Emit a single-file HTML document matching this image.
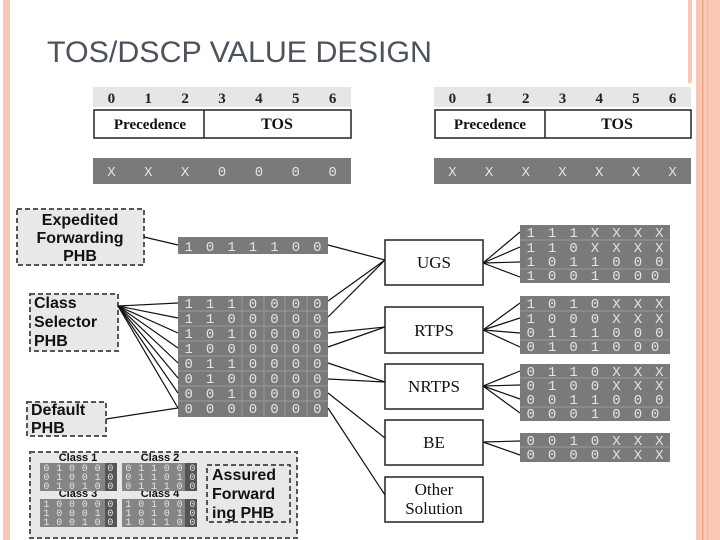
<!DOCTYPE html>
<html><head><meta charset="utf-8"><style>
html,body{margin:0;padding:0;background:#fff;width:720px;height:540px;overflow:hidden}
svg{display:block}
.t{font-family:"Liberation Sans",sans-serif;font-weight:bold;fill:#111}
.s{font-family:"Liberation Serif",serif;fill:#111}
.m{font-family:"Liberation Mono",monospace;fill:#e4e4e4;font-size:14px;text-anchor:middle}
.sm{font-family:"Liberation Mono",monospace;fill:#e4e4e4;font-size:10px;text-anchor:middle}
.h{font-family:"Liberation Serif",serif;font-weight:bold;fill:#222;font-size:15px;text-anchor:middle}
</style></head><body>
<svg width="720" height="540" viewBox="0 0 720 540" xmlns="http://www.w3.org/2000/svg">
<rect x="3" y="0" width="7" height="540" fill="#f8c8b4"/>
<rect x="688" y="0" width="4" height="83" fill="#f8c8b4"/>
<rect x="696" y="0" width="24" height="540" fill="#f8c8b4"/>
<rect x="702" y="0" width="1.5" height="540" fill="#f0a888"/>
<rect x="707" y="0" width="1" height="540" fill="#f3b49a"/>
<text x="47" y="62" font-family="Liberation Sans,sans-serif" font-size="30" fill="#4d535e" textLength="385" lengthAdjust="spacingAndGlyphs">TOS/DSCP VALUE DESIGN</text>

<!-- top-left table -->
<rect x="93" y="87" width="258" height="20" fill="#e6e6e6"/>
<text class="h" y="103" x="111.4 148.3 185.1 222 258.9 295.7 332.6">0123456</text>
<rect x="94" y="110" width="257" height="28" fill="#fff" stroke="#222" stroke-width="1.5"/>
<line x1="204" y1="110" x2="204" y2="138" stroke="#222" stroke-width="1.5"/>
<text class="s" x="150" y="129" font-size="15" font-weight="bold" text-anchor="middle">Precedence</text>
<text class="s" x="277" y="129" font-size="16" font-weight="bold" text-anchor="middle">TOS</text>
<rect x="93" y="158" width="258" height="26" fill="#7a7a7a"/>
<text class="m" y="176" x="111.4 148.3 185.1 222 258.9 295.7 332.6">XXX0000</text>

<!-- top-right table -->
<rect x="434" y="87" width="257" height="20" fill="#e6e6e6"/>
<text class="h" y="103" x="452.4 489.1 525.8 562.5 599.2 635.9 672.6">0123456</text>
<rect x="435" y="110" width="256" height="28" fill="#fff" stroke="#222" stroke-width="1.5"/>
<line x1="545" y1="110" x2="545" y2="138" stroke="#222" stroke-width="1.5"/>
<text class="s" x="490" y="129" font-size="15" font-weight="bold" text-anchor="middle">Precedence</text>
<text class="s" x="617" y="129" font-size="16" font-weight="bold" text-anchor="middle">TOS</text>
<rect x="434" y="158" width="257" height="26" fill="#7a7a7a"/>
<text class="m" y="176" x="452.4 489.1 525.8 562.5 599.2 635.9 672.6">XXXXXXX</text>

<!-- left dashed boxes -->
<g stroke="#555" stroke-width="2" stroke-dasharray="5,3" fill="#e8e8e8">
<rect x="17" y="209" width="127" height="56"/>
<rect x="30" y="294" width="88" height="57"/>
<rect x="27" y="402" width="79" height="34"/>
<rect x="30" y="452" width="267" height="86"/>
<rect x="207" y="465" width="83" height="57"/>
</g>
<text class="t" font-size="16" text-anchor="middle"><tspan x="80" y="225">Expedited</tspan><tspan x="80" y="243">Forwarding</tspan><tspan x="80" y="261">PHB</tspan></text>
<text class="t" font-size="16"><tspan x="34" y="308">Class</tspan><tspan x="34" y="327">Selector</tspan><tspan x="34" y="346">PHB</tspan></text>
<text class="t" font-size="16"><tspan x="31" y="415">Default</tspan><tspan x="31" y="433">PHB</tspan></text>
<text class="t" font-size="16"><tspan x="212" y="480">Assured</tspan><tspan x="212" y="499">Forward</tspan><tspan x="212" y="518">ing PHB</tspan></text>

<!-- AF class grids -->
<text class="t" font-size="11" text-anchor="middle"><tspan x="78" y="461">Class 1</tspan><tspan x="160" y="461">Class 2</tspan><tspan x="78" y="497">Class 3</tspan><tspan x="160" y="497">Class 4</tspan></text>
<g fill="#858585">
<rect x="40" y="463" width="77" height="28"/><rect x="122" y="463" width="75" height="28"/>
<rect x="40" y="499" width="77" height="28"/><rect x="122" y="499" width="75" height="28"/>
</g>
<g fill="#555">
<rect x="105" y="463" width="12" height="28"/><rect x="185" y="463" width="12" height="28"/>
<rect x="105" y="499" width="12" height="28"/><rect x="185" y="499" width="12" height="28"/>
</g>
<text class="sm"><tspan x="46.4 59.2 72 84.8 97.6 110.4" y="471">010000</tspan><tspan x="46.4 59.2 72 84.8 97.6 110.4" y="480">010010</tspan><tspan x="46.4 59.2 72 84.8 97.6 110.4" y="489">010100</tspan><tspan x="46.4 59.2 72 84.8 97.6 110.4" y="507">100000</tspan><tspan x="46.4 59.2 72 84.8 97.6 110.4" y="516">100010</tspan><tspan x="46.4 59.2 72 84.8 97.6 110.4" y="525">100100</tspan></text>
<text class="sm"><tspan x="128.4 141.2 154 166.8 179.6 192.4" y="471">011000</tspan><tspan x="128.4 141.2 154 166.8 179.6 192.4" y="480">011010</tspan><tspan x="128.4 141.2 154 166.8 179.6 192.4" y="489">011100</tspan><tspan x="128.4 141.2 154 166.8 179.6 192.4" y="507">101000</tspan><tspan x="128.4 141.2 154 166.8 179.6 192.4" y="516">101010</tspan><tspan x="128.4 141.2 154 166.8 179.6 192.4" y="525">101100</tspan></text>

<!-- EF row and CS matrix -->
<rect x="178" y="237" width="150" height="17" fill="#7a7a7a"/>
<text class="m" y="251" x="188.7 210.1 231.6 253 274.4 295.9 317.3">1011100</text>
<rect x="178" y="296" width="150" height="121" fill="#7a7a7a"/>
<g stroke="#999" stroke-width="1">
<line x1="178" y1="311" x2="328" y2="311"/><line x1="178" y1="326" x2="328" y2="326"/><line x1="178" y1="341" x2="328" y2="341"/><line x1="178" y1="356" x2="328" y2="356"/><line x1="178" y1="371" x2="328" y2="371"/><line x1="178" y1="386" x2="328" y2="386"/><line x1="178" y1="401" x2="328" y2="401"/>
<line x1="242" y1="296" x2="242" y2="417"/><line x1="264" y1="296" x2="264" y2="417"/><line x1="285" y1="296" x2="285" y2="417"/><line x1="307" y1="296" x2="307" y2="417"/>
</g>
<text class="m"><tspan x="188.7 210.1 231.6 253 274.4 295.9 317.3" y="308">1110000</tspan><tspan x="188.7 210.1 231.6 253 274.4 295.9 317.3" y="323">1100000</tspan><tspan x="188.7 210.1 231.6 253 274.4 295.9 317.3" y="338">1010000</tspan><tspan x="188.7 210.1 231.6 253 274.4 295.9 317.3" y="353">1000000</tspan><tspan x="188.7 210.1 231.6 253 274.4 295.9 317.3" y="368">0110000</tspan><tspan x="188.7 210.1 231.6 253 274.4 295.9 317.3" y="383">0100000</tspan><tspan x="188.7 210.1 231.6 253 274.4 295.9 317.3" y="398">0010000</tspan><tspan x="188.7 210.1 231.6 253 274.4 295.9 317.3" y="413">0000000</tspan></text>

<!-- connectors left -->
<g stroke="#111" stroke-width="1.2">
<line x1="144" y1="237" x2="178" y2="245"/>
<line x1="106" y1="419" x2="178" y2="408"/>
<line x1="118" y1="306" x2="178" y2="303"/><line x1="118" y1="306" x2="178" y2="318"/><line x1="118" y1="306" x2="178" y2="333"/><line x1="118" y1="306" x2="178" y2="348"/><line x1="118" y1="306" x2="178" y2="363"/><line x1="118" y1="306" x2="178" y2="378"/><line x1="118" y1="306" x2="178" y2="393"/><line x1="118" y1="306" x2="178" y2="408"/>
<line x1="328" y1="245" x2="385" y2="260"/>
<line x1="328" y1="301" x2="385" y2="260"/><line x1="328" y1="317" x2="385" y2="260"/>
<line x1="328" y1="333" x2="385" y2="327"/><line x1="328" y1="347" x2="385" y2="327"/>
<line x1="328" y1="363" x2="385" y2="382"/><line x1="328" y1="379" x2="385" y2="382"/>
<line x1="328" y1="393" x2="385" y2="438"/><line x1="328" y1="408" x2="385" y2="495"/>
<line x1="483" y1="263" x2="520" y2="232"/><line x1="483" y1="263" x2="520" y2="247"/><line x1="483" y1="263" x2="520" y2="262"/><line x1="483" y1="263" x2="520" y2="277"/>
<line x1="483" y1="330" x2="520" y2="303"/><line x1="483" y1="330" x2="520" y2="318"/><line x1="483" y1="330" x2="520" y2="333"/><line x1="483" y1="330" x2="520" y2="347"/>
<line x1="483" y1="386" x2="520" y2="371"/><line x1="483" y1="386" x2="520" y2="385"/><line x1="483" y1="386" x2="520" y2="399"/><line x1="483" y1="386" x2="520" y2="413"/>
<line x1="483" y1="442" x2="520" y2="441"/><line x1="483" y1="442" x2="520" y2="455"/>
</g>

<!-- boxes -->
<g fill="#fff" stroke="#222" stroke-width="1.5">
<rect x="385" y="240" width="98" height="45"/>
<rect x="385" y="307" width="98" height="46"/>
<rect x="385" y="364" width="98" height="45"/>
<rect x="385" y="420" width="98" height="45"/>
<rect x="385" y="477" width="98" height="45"/>
</g>
<text class="s" font-size="17" text-anchor="middle"><tspan x="434" y="268">UGS</tspan><tspan x="434" y="336">RTPS</tspan><tspan x="434" y="392">NRTPS</tspan><tspan x="434" y="448">BE</tspan><tspan x="434" y="495">Other</tspan><tspan x="434" y="514">Solution</tspan></text>

<!-- right matrices -->
<g fill="#7a7a7a">
<rect x="520" y="225" width="150" height="58"/>
<rect x="520" y="296" width="150" height="58"/>
<rect x="520" y="364" width="150" height="57"/>
<rect x="520" y="433" width="150" height="29"/>
</g>
<g stroke="#999" stroke-width="1">
<line x1="520" y1="240" x2="670" y2="240"/><line x1="520" y1="269" x2="670" y2="269"/>
<line x1="520" y1="311" x2="670" y2="311"/><line x1="520" y1="340" x2="670" y2="340"/>
<line x1="520" y1="378" x2="670" y2="378"/><line x1="520" y1="407" x2="670" y2="407"/>
<line x1="520" y1="447" x2="670" y2="447"/>
</g>
<text class="m"><tspan x="530.7 552.1 573.6 595 616.4 637.9 659.3" y="237">111XXXX</tspan><tspan x="530.7 552.1 573.6 595 616.4 637.9 659.3" y="252">110XXXX</tspan><tspan x="530.7 552.1 573.6 595 616.4 637.9 659.3" y="266">1011000</tspan><tspan x="530.7 552.1 573.6 595 616.4 637.9 659.3" y="280">1001000</tspan>
<tspan x="530.7 552.1 573.6 595 616.4 637.9 659.3" y="308">1010XXX</tspan><tspan x="530.7 552.1 573.6 595 616.4 637.9 659.3" y="323">1000XXX</tspan><tspan x="530.7 552.1 573.6 595 616.4 637.9 659.3" y="337">0111000</tspan><tspan x="530.7 552.1 573.6 595 616.4 637.9 659.3" y="351">0101000</tspan>
<tspan x="530.7 552.1 573.6 595 616.4 637.9 659.3" y="376">0110XXX</tspan><tspan x="530.7 552.1 573.6 595 616.4 637.9 659.3" y="390">0100XXX</tspan><tspan x="530.7 552.1 573.6 595 616.4 637.9 659.3" y="404">0011000</tspan><tspan x="530.7 552.1 573.6 595 616.4 637.9 659.3" y="418">0001000</tspan>
<tspan x="530.7 552.1 573.6 595 616.4 637.9 659.3" y="445">0010XXX</tspan><tspan x="530.7 552.1 573.6 595 616.4 637.9 659.3" y="459">0000XXX</tspan></text>
</svg>
</body></html>
